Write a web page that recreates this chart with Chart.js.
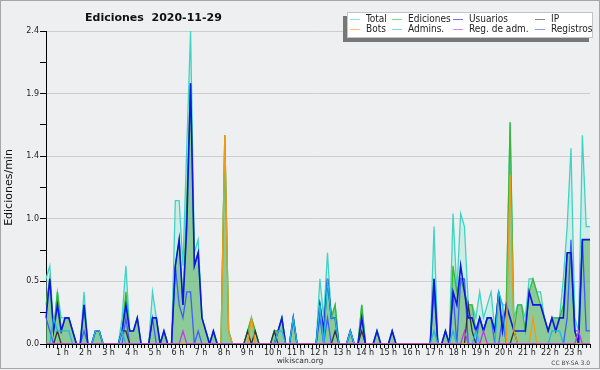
<!DOCTYPE html>
<html lang="es">
<head>
<meta charset="utf-8">
<title>Ediciones 2020-11-29</title>
<script src="https://cdn.jsdelivr.net/npm/chart.js@4.4.0/dist/chart.umd.min.js"></script>
<style>
  html, body { margin: 0; padding: 0; background: #eeeff1; }
  #marco { position: relative; width: 600px; height: 370px; overflow: hidden; }
  #grafico { position: absolute; left: 0; top: 0; }
  #borde { position: absolute; left: 0; top: 0; width: 600px; height: 369px; box-sizing: border-box;
           border: 1px solid #a6a6a6; pointer-events: none; }
  #titulo { position: absolute; left: 85px; top: 11px; line-height: 12px; white-space: pre;
            font: bold 11px "DejaVu Sans", sans-serif; color: #111; }
  #leyenda { position: absolute; left: 347px; top: 12px; width: 246px; height: 26px; box-sizing: border-box;
             background: #fff; border: 1px solid #c4c4c4; box-shadow: -4px 4px 0 #777;
             display: grid; grid-template-columns: 42px 61px 82px 58px; grid-template-rows: 10px 10px;
             padding: 1px 0 0 2px; font: 10px "DejaVu Sans", sans-serif; font-stretch: condensed;
             line-height: 10px; color: #222; }
  .item { display: flex; align-items: center; white-space: nowrap; }
  .item i { display: inline-block; width: 10px; height: 1px; margin-right: 6px; opacity: 0.6; }
  #pie { position: absolute; left: 0; top: 356px; width: 600px; text-align: center; line-height: 8px;
         font: 7.5px "DejaVu Sans", sans-serif; color: #333; }
  #licencia { position: absolute; right: 10px; top: 359px; line-height: 8px;
              font: 6px "DejaVu Sans", sans-serif; color: #444; }
</style>
</head>
<body>
<div id="marco">
  <canvas id="grafico" width="600" height="370"></canvas>
  <div id="titulo">Ediciones  2020-11-29</div>
  <div id="leyenda"></div>
  <div id="pie">wikiscan.org</div>
  <div id="licencia">CC BY-SA 3.0</div>
  <div id="borde"></div>
</div>
<script>
// franjas de 10 minutos del día
const franjas = [];
for (let h = 0; h < 24; h++) {
    for (let m = 0; m < 60; m += 10) {
        franjas.push(h + ':' + String(m).padStart(2, '0'));
    }
}

// etiquetas de horas del eje x
const etiquetasHora = ['1 h', '2 h', '3 h', '4 h', '5 h', '6 h', '7 h', '8 h', '9 h', '10 h', '11 h', '12 h',
    '13 h', '14 h', '15 h', '16 h', '17 h', '18 h', '19 h', '20 h', '21 h', '22 h', '23 h'];

// marcas del eje y (las pares llevan etiqueta)
const marcasY = [0, 0.24, 0.48, 0.72, 0.96, 1.2, 1.44, 1.68, 1.92, 2.16, 2.4];

// ediciones por minuto, una fila por hora
const total = [
    0.5, 0.6, 0.1, 0.4, 0.2, 0.2,
    0.2, 0.1, 0, 0, 0.4, 0,
    0, 0.1, 0.1, 0, 0, 0,
    0, 0, 0.2, 0.6, 0.1, 0.1,
    0.2, 0, 0, 0, 0.4, 0.2,
    0, 0.1, 0, 0, 1.1, 1.1,
    0.6, 1.5, 2.4, 0.7, 0.8, 0.2,
    0.1, 0, 0.1, 0, 0, 1.6,
    0.1, 0, 0, 0, 0, 0.1,
    0.2, 0.1, 0, 0, 0, 0,
    0.1, 0.1, 0.2, 0, 0, 0.2,
    0, 0, 0, 0, 0, 0,
    0.5, 0.2, 0.7, 0.2, 0.3, 0,
    0, 0, 0.1, 0, 0, 0.3,
    0, 0, 0, 0.1, 0, 0,
    0, 0.1, 0, 0, 0, 0,
    0, 0, 0, 0, 0, 0,
    0.9, 0, 0, 0.1, 0, 1.0,
    0.4, 1.0, 0.9, 0.3, 0.3, 0.2,
    0.4, 0.2, 0.3, 0.4, 0.1, 0.4,
    0.3, 0.3, 1.7, 0.2, 0.3, 0.3,
    0.2, 0.5, 0.5, 0.4, 0.4, 0.2,
    0.1, 0.2, 0.2, 0.2, 0.5, 0.9,
    1.5, 0.2, 0.1, 1.6, 0.9, 0.9
];

const ediciones = [
    0.3, 0.5, 0.1, 0.4, 0.1, 0.2,
    0.2, 0.1, 0, 0, 0.3, 0,
    0, 0.1, 0.1, 0, 0, 0,
    0, 0, 0.1, 0.4, 0.1, 0.1,
    0.2, 0, 0, 0, 0.2, 0.2,
    0, 0.1, 0, 0, 0.6, 0.8,
    0.3, 1.1, 2.0, 0.6, 0.7, 0.2,
    0.1, 0, 0.1, 0, 0, 1.6,
    0.1, 0, 0, 0, 0, 0.1,
    0.2, 0.1, 0, 0, 0, 0,
    0.1, 0.1, 0.2, 0, 0, 0.2,
    0, 0, 0, 0, 0, 0,
    0.3, 0.1, 0.5, 0.2, 0.3, 0,
    0, 0, 0.1, 0, 0, 0.3,
    0, 0, 0, 0.1, 0, 0,
    0, 0.1, 0, 0, 0, 0,
    0, 0, 0, 0, 0, 0,
    0.5, 0, 0, 0.1, 0, 0.6,
    0.4, 0.5, 0.4, 0.3, 0.3, 0.1,
    0.2, 0.1, 0.2, 0.2, 0.1, 0.4,
    0.1, 0.3, 1.7, 0.1, 0.3, 0.3,
    0.1, 0.4, 0.5, 0.4, 0.3, 0.2,
    0.1, 0.2, 0.2, 0.2, 0.3, 0.7,
    0.7, 0.1, 0, 0.8, 0.8, 0.8
];

const usuarios = [
    0.2, 0.5, 0.1, 0.3, 0.1, 0.2,
    0.2, 0.1, 0, 0, 0.3, 0,
    0, 0.1, 0.1, 0, 0, 0,
    0, 0, 0.1, 0.3, 0.1, 0.1,
    0.2, 0, 0, 0, 0.2, 0.2,
    0, 0.1, 0, 0, 0.6, 0.8,
    0.3, 0.9, 2.0, 0.6, 0.7, 0.2,
    0.1, 0, 0.1, 0, 0, 0,
    0, 0, 0, 0, 0, 0,
    0, 0, 0, 0, 0, 0,
    0, 0.1, 0.2, 0, 0, 0.2,
    0, 0, 0, 0, 0, 0,
    0.3, 0.1, 0.5, 0.2, 0.2, 0,
    0, 0, 0.1, 0, 0, 0.2,
    0, 0, 0, 0.1, 0, 0,
    0, 0.1, 0, 0, 0, 0,
    0, 0, 0, 0, 0, 0,
    0.5, 0, 0, 0.1, 0, 0.4,
    0.3, 0.6, 0.4, 0.2, 0.2, 0.1,
    0.2, 0.1, 0.2, 0.2, 0.1, 0.4,
    0.1, 0.3, 0.2, 0.1, 0.1, 0.1,
    0.1, 0.4, 0.3, 0.3, 0.3, 0.2,
    0.1, 0.2, 0.1, 0.2, 0.2, 0.7,
    0.7, 0.1, 0, 0.8, 0.8, 0.8
];

const ip = [
    0, 0, 0, 0.1, 0, 0,
    0, 0, 0, 0, 0, 0,
    0, 0, 0, 0, 0, 0,
    0, 0, 0.1, 0.1, 0, 0,
    0, 0, 0, 0, 0, 0,
    0, 0, 0, 0, 0, 0,
    0, 0, 0, 0, 0, 0,
    0, 0, 0, 0, 0, 0,
    0, 0, 0, 0, 0, 0.1,
    0, 0.1, 0, 0, 0, 0,
    0.1, 0, 0, 0, 0, 0,
    0, 0, 0, 0, 0, 0,
    0, 0, 0, 0, 0.1, 0,
    0, 0, 0, 0, 0, 0.1,
    0, 0, 0, 0, 0, 0,
    0, 0, 0, 0, 0, 0,
    0, 0, 0, 0, 0, 0,
    0, 0, 0, 0, 0, 0,
    0, 0, 0, 0.3, 0.1, 0,
    0, 0, 0, 0, 0, 0,
    0, 0, 0, 0.1, 0, 0,
    0, 0, 0, 0, 0, 0,
    0, 0, 0, 0, 0, 0,
    0, 0, 0, 0, 0, 0
];

const bots = [
    0, 0, 0, 0, 0, 0,
    0, 0, 0, 0, 0, 0,
    0, 0, 0, 0, 0, 0,
    0, 0, 0, 0, 0, 0,
    0, 0, 0, 0, 0, 0,
    0, 0, 0, 0, 0, 0,
    0, 0, 0, 0, 0, 0,
    0, 0, 0, 0, 0, 1.6,
    0.1, 0, 0, 0, 0, 0,
    0.2, 0, 0, 0, 0, 0,
    0, 0, 0, 0, 0, 0,
    0, 0, 0, 0, 0, 0,
    0, 0, 0, 0, 0, 0,
    0, 0, 0, 0, 0, 0,
    0, 0, 0, 0, 0, 0,
    0, 0, 0, 0, 0, 0,
    0, 0, 0, 0, 0, 0,
    0, 0, 0, 0, 0, 0,
    0, 0, 0, 0, 0, 0,
    0, 0, 0, 0, 0, 0,
    0, 0, 1.3, 0.1, 0, 0,
    0, 0, 0.2, 0, 0, 0,
    0, 0, 0, 0, 0, 0,
    0, 0, 0, 0, 0, 0
];

const admins = [
    0, 0, 0.2, 0.1, 0.1, 0.1,
    0.1, 0, 0, 0, 0, 0,
    0, 0.1, 0.1, 0, 0, 0,
    0, 0, 0.1, 0, 0, 0,
    0, 0, 0, 0, 0, 0,
    0, 0, 0, 0, 0, 0,
    0, 0, 0, 0, 0, 0,
    0, 0, 0, 0, 0, 0,
    0, 0, 0, 0, 0, 0,
    0, 0, 0, 0, 0, 0,
    0, 0.1, 0.1, 0, 0, 0.2,
    0, 0, 0, 0, 0, 0,
    0.3, 0, 0.5, 0.2, 0.2, 0,
    0, 0, 0.1, 0, 0, 0,
    0, 0, 0, 0, 0, 0,
    0, 0, 0, 0, 0, 0,
    0, 0, 0, 0, 0, 0,
    0.1, 0, 0, 0, 0, 0.1,
    0, 0, 0, 0, 0, 0.1,
    0, 0, 0, 0, 0, 0.4,
    0.3, 0, 0, 0, 0, 0,
    0, 0, 0, 0, 0, 0,
    0, 0.1, 0.1, 0.1, 0, 0,
    0, 0, 0, 0, 0, 0
];

const regAdmin = [
    0, 0, 0, 0, 0, 0,
    0, 0, 0, 0, 0, 0,
    0, 0, 0, 0, 0, 0,
    0, 0, 0, 0, 0, 0,
    0, 0, 0, 0, 0, 0,
    0, 0, 0, 0, 0, 0,
    0.1, 0, 0, 0, 0, 0,
    0, 0, 0, 0, 0, 0,
    0, 0, 0, 0, 0, 0,
    0, 0, 0, 0, 0, 0,
    0, 0, 0, 0, 0, 0,
    0, 0, 0, 0, 0, 0,
    0, 0, 0, 0, 0, 0,
    0, 0, 0, 0, 0, 0,
    0, 0, 0, 0, 0, 0,
    0, 0, 0, 0, 0, 0,
    0, 0, 0, 0, 0, 0,
    0, 0, 0, 0, 0, 0,
    0, 0, 0.1, 0, 0, 0,
    0, 0.1, 0, 0, 0, 0,
    0, 0, 0, 0, 0, 0,
    0, 0, 0, 0, 0, 0,
    0, 0, 0, 0, 0, 0,
    0, 0, 0.1, 0, 0, 0
];

const registros = [
    0.2, 0.1, 0, 0, 0, 0,
    0, 0, 0, 0, 0.1, 0,
    0, 0, 0, 0, 0, 0,
    0, 0, 0, 0.2, 0, 0,
    0, 0, 0, 0, 0.2, 0,
    0, 0, 0, 0, 0.6, 0.3,
    0.2, 0.4, 0.4, 0, 0.1, 0,
    0, 0, 0, 0, 0, 0,
    0, 0, 0, 0, 0, 0,
    0, 0, 0, 0, 0, 0,
    0, 0, 0, 0, 0, 0,
    0, 0, 0, 0, 0, 0,
    0.2, 0, 0.2, 0, 0, 0,
    0, 0, 0, 0, 0, 0,
    0, 0, 0, 0, 0, 0,
    0, 0, 0, 0, 0, 0,
    0, 0, 0, 0, 0, 0,
    0.4, 0, 0, 0, 0, 0.4,
    0, 0.5, 0.5, 0, 0, 0,
    0.2, 0.1, 0.2, 0.2, 0, 0,
    0.2, 0, 0, 0, 0, 0,
    0, 0, 0, 0, 0, 0,
    0, 0, 0, 0, 0, 0.2,
    0.8, 0.1, 0.1, 0.8, 0.1, 0.1
];

// series en el orden de la leyenda; "orden" bajo = dibujada encima
const series = [
    { nombre: 'Total', datos: total, color: '#3fd3c4', fondo: 'rgba(160,232,215,0.4)', orden: 8 },
    { nombre: 'Ediciones', datos: ediciones, color: '#38b83a', fondo: 'rgba(60,160,60,0.45)', orden: 7 },
    { nombre: 'Usuarios', datos: usuarios, color: '#0c18e0', orden: 4, ancho: 1.6 },
    { nombre: 'IP', datos: ip, color: '#333333', orden: 5 },
    { nombre: 'Bots', datos: bots, color: '#f39a12', orden: 2 },
    { nombre: 'Admins.', datos: admins, color: '#22b9e0', orden: 3 },
    { nombre: 'Reg. de adm.', datos: regAdmin, color: '#c23be0', orden: 1 },
    { nombre: 'Registros', datos: registros, color: '#3f5cff', orden: 6 }
];

// leyenda en html (4 columnas x 2 filas con sombra)
for (const s of series) {
    $item = document.createElement('div');
    $item.className = 'item';
    $item.innerHTML = `<i style="background:${s.color}"></i>${s.nombre}`;
    document.getElementById('leyenda').appendChild($item);
}

const fuente = '"DejaVu Sans", sans-serif';

let ctx = document.getElementById('grafico').getContext('2d');
let grafico = new Chart(ctx, {
    type: 'line',
    data: {
        labels: franjas,
        datasets: series.map(s => ({
            label: s.nombre,
            data: s.datos,
            borderColor: s.color,
            borderWidth: s.ancho || 1.3,
            backgroundColor: s.fondo || s.color,
            fill: s.fondo ? 'origin' : false,
            order: s.orden
        }))
    },
    options: {
        responsive: false,
        animation: false,
        layout: { padding: { top: 31, right: 10, left: 0, bottom: 0 } },
        elements: {
            point: { radius: 0 },
            line: { tension: 0 }
        },
        plugins: {
            legend: { display: false },
            tooltip: { enabled: false },
            filler: { drawTime: 'beforeDatasetsDraw' }
        },
        scales: {
            x: {
                type: 'category',
                offset: false,
                grid: { drawOnChartArea: false, color: '#000', tickLength: 4 },
                border: { color: '#000' },
                ticks: { autoSkip: false, maxRotation: 0, callback: () => '' },
                afterFit: s => { s.height = 1; }
            },
            horas: {
                type: 'linear',
                position: 'bottom',
                bounds: 'data',
                min: 0.567,
                max: 24.117,
                grid: { display: false, drawTicks: false },
                border: { display: false },
                afterBuildTicks: s => { s.ticks = etiquetasHora.map((t, k) => ({ value: k + 1 })); },
                ticks: {
                    autoSkip: false, maxRotation: 0, align: 'start', padding: 3,
                    font: { family: fuente, size: 8 }, color: '#222',
                    callback: (v, i) => etiquetasHora[i]
                },
                afterFit: s => { s.height = 25; }
            },
            y: {
                bounds: 'data',
                min: 0,
                max: 2.4,
                afterBuildTicks: s => { s.ticks = marcasY.map(v => ({ value: v })); },
                grid: {
                    color: c => (c.index % 2 === 0 && c.index > 0) ? '#cdcdcd' : 'rgba(0,0,0,0)',
                    tickColor: '#000',
                    tickLength: 6
                },
                border: { color: '#000' },
                ticks: {
                    padding: 1,
                    font: { family: fuente, size: 8 }, color: '#222',
                    callback: (v, i) => i % 2 === 0 ? v.toFixed(1) : ''
                },
                title: {
                    display: true, text: 'Ediciones/min', color: '#111',
                    font: { family: fuente, size: 11 },
                    padding: { top: 3, bottom: 0 }
                },
                afterFit: s => { s.width = 46; }
            }
        }
    }
});
</script>
</body>
</html>
